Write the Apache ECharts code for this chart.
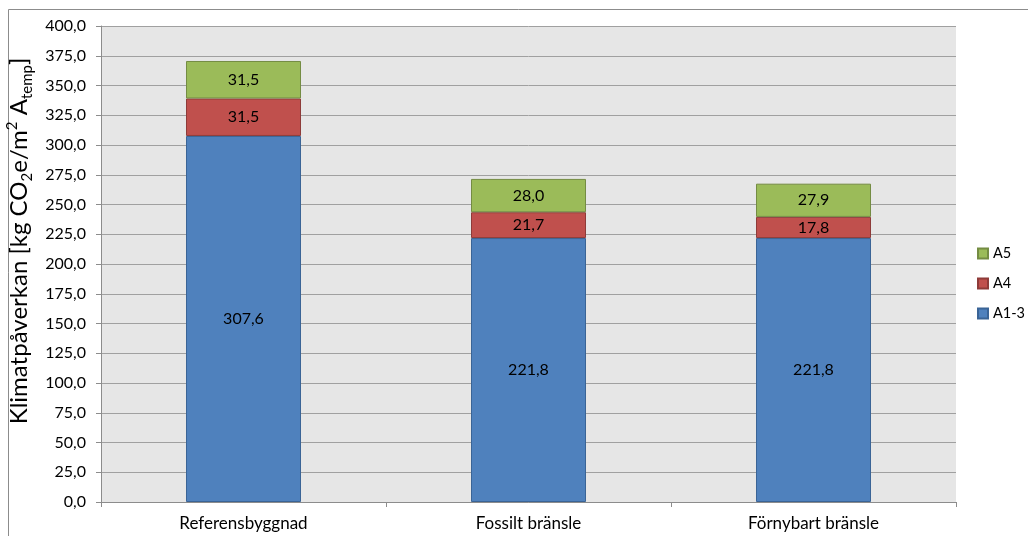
<!DOCTYPE html>
<html>
<head>
<meta charset="utf-8">
<script src="https://cdn.jsdelivr.net/npm/echarts@6/dist/echarts.min.js"></script>
<style>
  html, body { margin: 0; padding: 0; background: #ffffff; }
  #chart { width: 1028px; height: 536px; }
</style>
</head>
<body>
<div id="chart"></div>
<script>
// Building alternatives
const categories = ['Referensbyggnad', 'Fossilt bränsle', 'Förnybart bränsle'];

// Climate impact per module, kg CO2e/m² Atemp
const seriesA13 = [307.6, 221.8, 221.8];
const seriesA4 = [31.5, 21.7, 17.8];
const seriesA5 = [31.5, 28.0, 27.9];

const seriesNames = ['A1-3', 'A4', 'A5'];
const legendOrder = ['A5', 'A4', 'A1-3'];

const yMin = 0;
const yMax = 400;
const yStep = 25;

const fontFamily = 'Lato, "Open Sans", sans-serif';

const fmt = v => v.toFixed(1).replace('.', ',');

function barSeries(name, values, fill, edge) {
  return {
    name: name,
    type: 'bar',
    stack: 'total',
    barWidth: 115,
    data: values,
    itemStyle: { color: fill, borderColor: edge, borderWidth: 1 },
    label: {
      show: true,
      position: 'inside',
      color: '#000000',
      fontFamily: fontFamily,
      fontSize: 16,
      formatter: p => fmt(p.value)
    },
    emphasis: { disabled: true }
  };
}

const chart = echarts.init(document.getElementById('chart'), null, { renderer: 'canvas' });

chart.setOption({
  animation: false,
  backgroundColor: '#ffffff',
  graphic: [{
    type: 'polyline',
    shape: { points: [[8.5, 536], [8.5, 9.5], [1028, 9.5]] },
    style: { stroke: '#8c8c8c', lineWidth: 1, fill: null },
    silent: true
  }],
  grid: {
    left: 101,
    right: 72,
    top: 26,
    bottom: 34,
    containLabel: false,
    outerBoundsMode: 'none',
    show: true,
    backgroundColor: '#e6e6e6',
    borderWidth: 0
  },
  legend: {
    orient: 'vertical',
    left: 972,
    top: 241,
    itemWidth: 10,
    itemHeight: 10,
    itemGap: 15,
    icon: 'rect',
    data: legendOrder,
    textStyle: { fontFamily: fontFamily, fontSize: 14.5, color: '#000000' },
    selectedMode: false
  },
  xAxis: {
    type: 'category',
    data: categories,
    axisLine: { show: true, lineStyle: { color: '#8c8c8c', width: 1 } },
    axisTick: { show: true, length: 5, lineStyle: { color: '#8c8c8c' } },
    axisLabel: { fontFamily: fontFamily, fontSize: 17, color: '#000000', margin: 13 },
    splitLine: { show: false }
  },
  yAxis: {
    type: 'value',
    min: yMin,
    max: yMax,
    interval: yStep,
    name: '{n|Klimatpåverkan [kg CO}{s|2}{n|e/m}{p|2}{n| A}{s|temp}{n|]}',
    nameLocation: 'middle',
    nameRotate: 90,
    nameGap: 64,
    nameTextStyle: {
      padding: [0, 0, 0, 46],
      rich: {
        n: { fontFamily: fontFamily, fontSize: 24, color: '#000000', verticalAlign: 'middle', lineHeight: 30 },
        s: { fontFamily: fontFamily, fontSize: 15, color: '#000000', verticalAlign: 'bottom', lineHeight: 30, padding: [10, 0, 0, 0] },
        p: { fontFamily: fontFamily, fontSize: 15, color: '#000000', verticalAlign: 'top', lineHeight: 30, padding: [0, 0, 10, 0] }
      }
    },
    axisLine: { show: true, lineStyle: { color: '#8c8c8c', width: 1 } },
    axisTick: { show: true, length: 5, lineStyle: { color: '#8c8c8c' } },
    axisLabel: { fontFamily: fontFamily, fontSize: 16, color: '#000000', margin: 15, formatter: v => fmt(v) },
    splitLine: { show: true, lineStyle: { color: '#a0a0a0', width: 1 } }
  },
  series: [
    barSeries(seriesNames[0], seriesA13, '#4f81bd', '#3a6496'),
    barSeries(seriesNames[1], seriesA4, '#c0504d', '#8e3b39'),
    barSeries(seriesNames[2], seriesA5, '#9bbb59', '#748c43')
  ]
});
</script>
</body>
</html>
